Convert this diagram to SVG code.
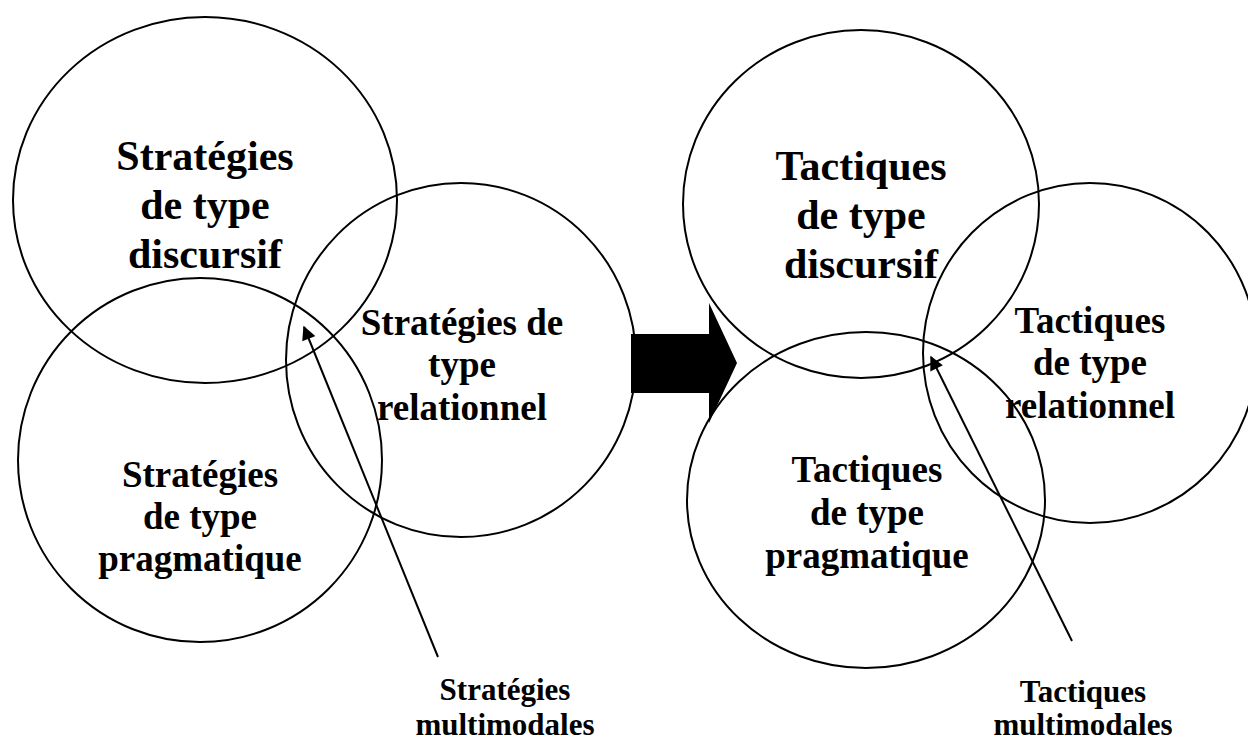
<svg xmlns="http://www.w3.org/2000/svg" width="1248" height="740" viewBox="0 0 1248 740">
  <style>
    .ring { fill: none; stroke: #000; stroke-width: 2; }
    .lbl { font-family: "Liberation Serif", "Times New Roman", serif; font-weight: bold; text-anchor: middle; fill: #000; }
    .big { font-size: 42px; }
    .mid { font-size: 37px; }
    .small { font-size: 31px; }
    .ptr { stroke: #000; stroke-width: 2; fill: none; marker-end: url(#head); }
  </style>
  <defs>
    <marker id="head" viewBox="0 0 10 10" refX="9" refY="5" markerWidth="8" markerHeight="7" markerUnits="strokeWidth" orient="auto">
      <path d="M0,0 L10,5 L0,10 z" fill="#000"/>
    </marker>
  </defs>
  <rect width="1248" height="740" fill="#fff"/>

  <!-- Strategies -->
  <g id="strat-discursif">
    <ellipse class="ring" cx="205" cy="200" rx="192" ry="183"/>
    <text class="lbl big" x="205"><tspan x="205" y="170">Stratégies</tspan><tspan x="205" y="219">de type</tspan><tspan x="205" y="268">discursif</tspan></text>
  </g>
  <g id="strat-pragmatique">
    <circle class="ring" cx="200" cy="460" r="182"/>
    <text class="lbl mid"><tspan x="200" y="487">Stratégies</tspan><tspan x="200" y="529">de type</tspan><tspan x="200" y="571">pragmatique</tspan></text>
  </g>
  <g id="strat-relationnel">
    <ellipse class="ring" cx="461" cy="360" rx="175" ry="177"/>
    <text class="lbl mid"><tspan x="462" y="335">Stratégies de</tspan><tspan x="462" y="377">type</tspan><tspan x="462" y="420">relationnel</tspan></text>
  </g>
  <g id="strat-multimodales">
    <text class="lbl small"><tspan x="505" y="700">Stratégies</tspan><tspan x="505" y="735">multimodales</tspan></text>
  </g>

  <!-- Transition arrow -->
  <g id="transition">
    <polygon points="631,334 709,334 709,303 737,363 709,423 709,393 631,393" fill="#000"/>
  </g>

  <!-- Tactics -->
  <g id="tact-discursif">
    <ellipse class="ring" cx="861" cy="204" rx="178" ry="174"/>
    <text class="lbl big"><tspan x="861" y="180">Tactiques</tspan><tspan x="861" y="229">de type</tspan><tspan x="861" y="278">discursif</tspan></text>
  </g>
  <g id="tact-pragmatique">
    <ellipse class="ring" cx="866" cy="500" rx="179" ry="168"/>
    <text class="lbl mid"><tspan x="867" y="482">Tactiques</tspan><tspan x="867" y="525">de type</tspan><tspan x="867" y="568">pragmatique</tspan></text>
  </g>
  <g id="tact-relationnel">
    <ellipse class="ring" cx="1090" cy="353" rx="167" ry="170"/>
    <text class="lbl mid"><tspan x="1090" y="333">Tactiques</tspan><tspan x="1090" y="375">de type</tspan><tspan x="1090" y="418">relationnel</tspan></text>
  </g>
  <g id="tact-multimodales">
    <text class="lbl small"><tspan x="1083" y="702">Tactiques</tspan><tspan x="1083" y="735">multimodales</tspan></text>
  </g>

  <!-- Pointers -->
  <g id="connectors">
    <line class="ptr" x1="438" y1="657" x2="304" y2="327"/>
    <line class="ptr" x1="1072" y1="641" x2="931" y2="357"/>
  </g>
</svg>
